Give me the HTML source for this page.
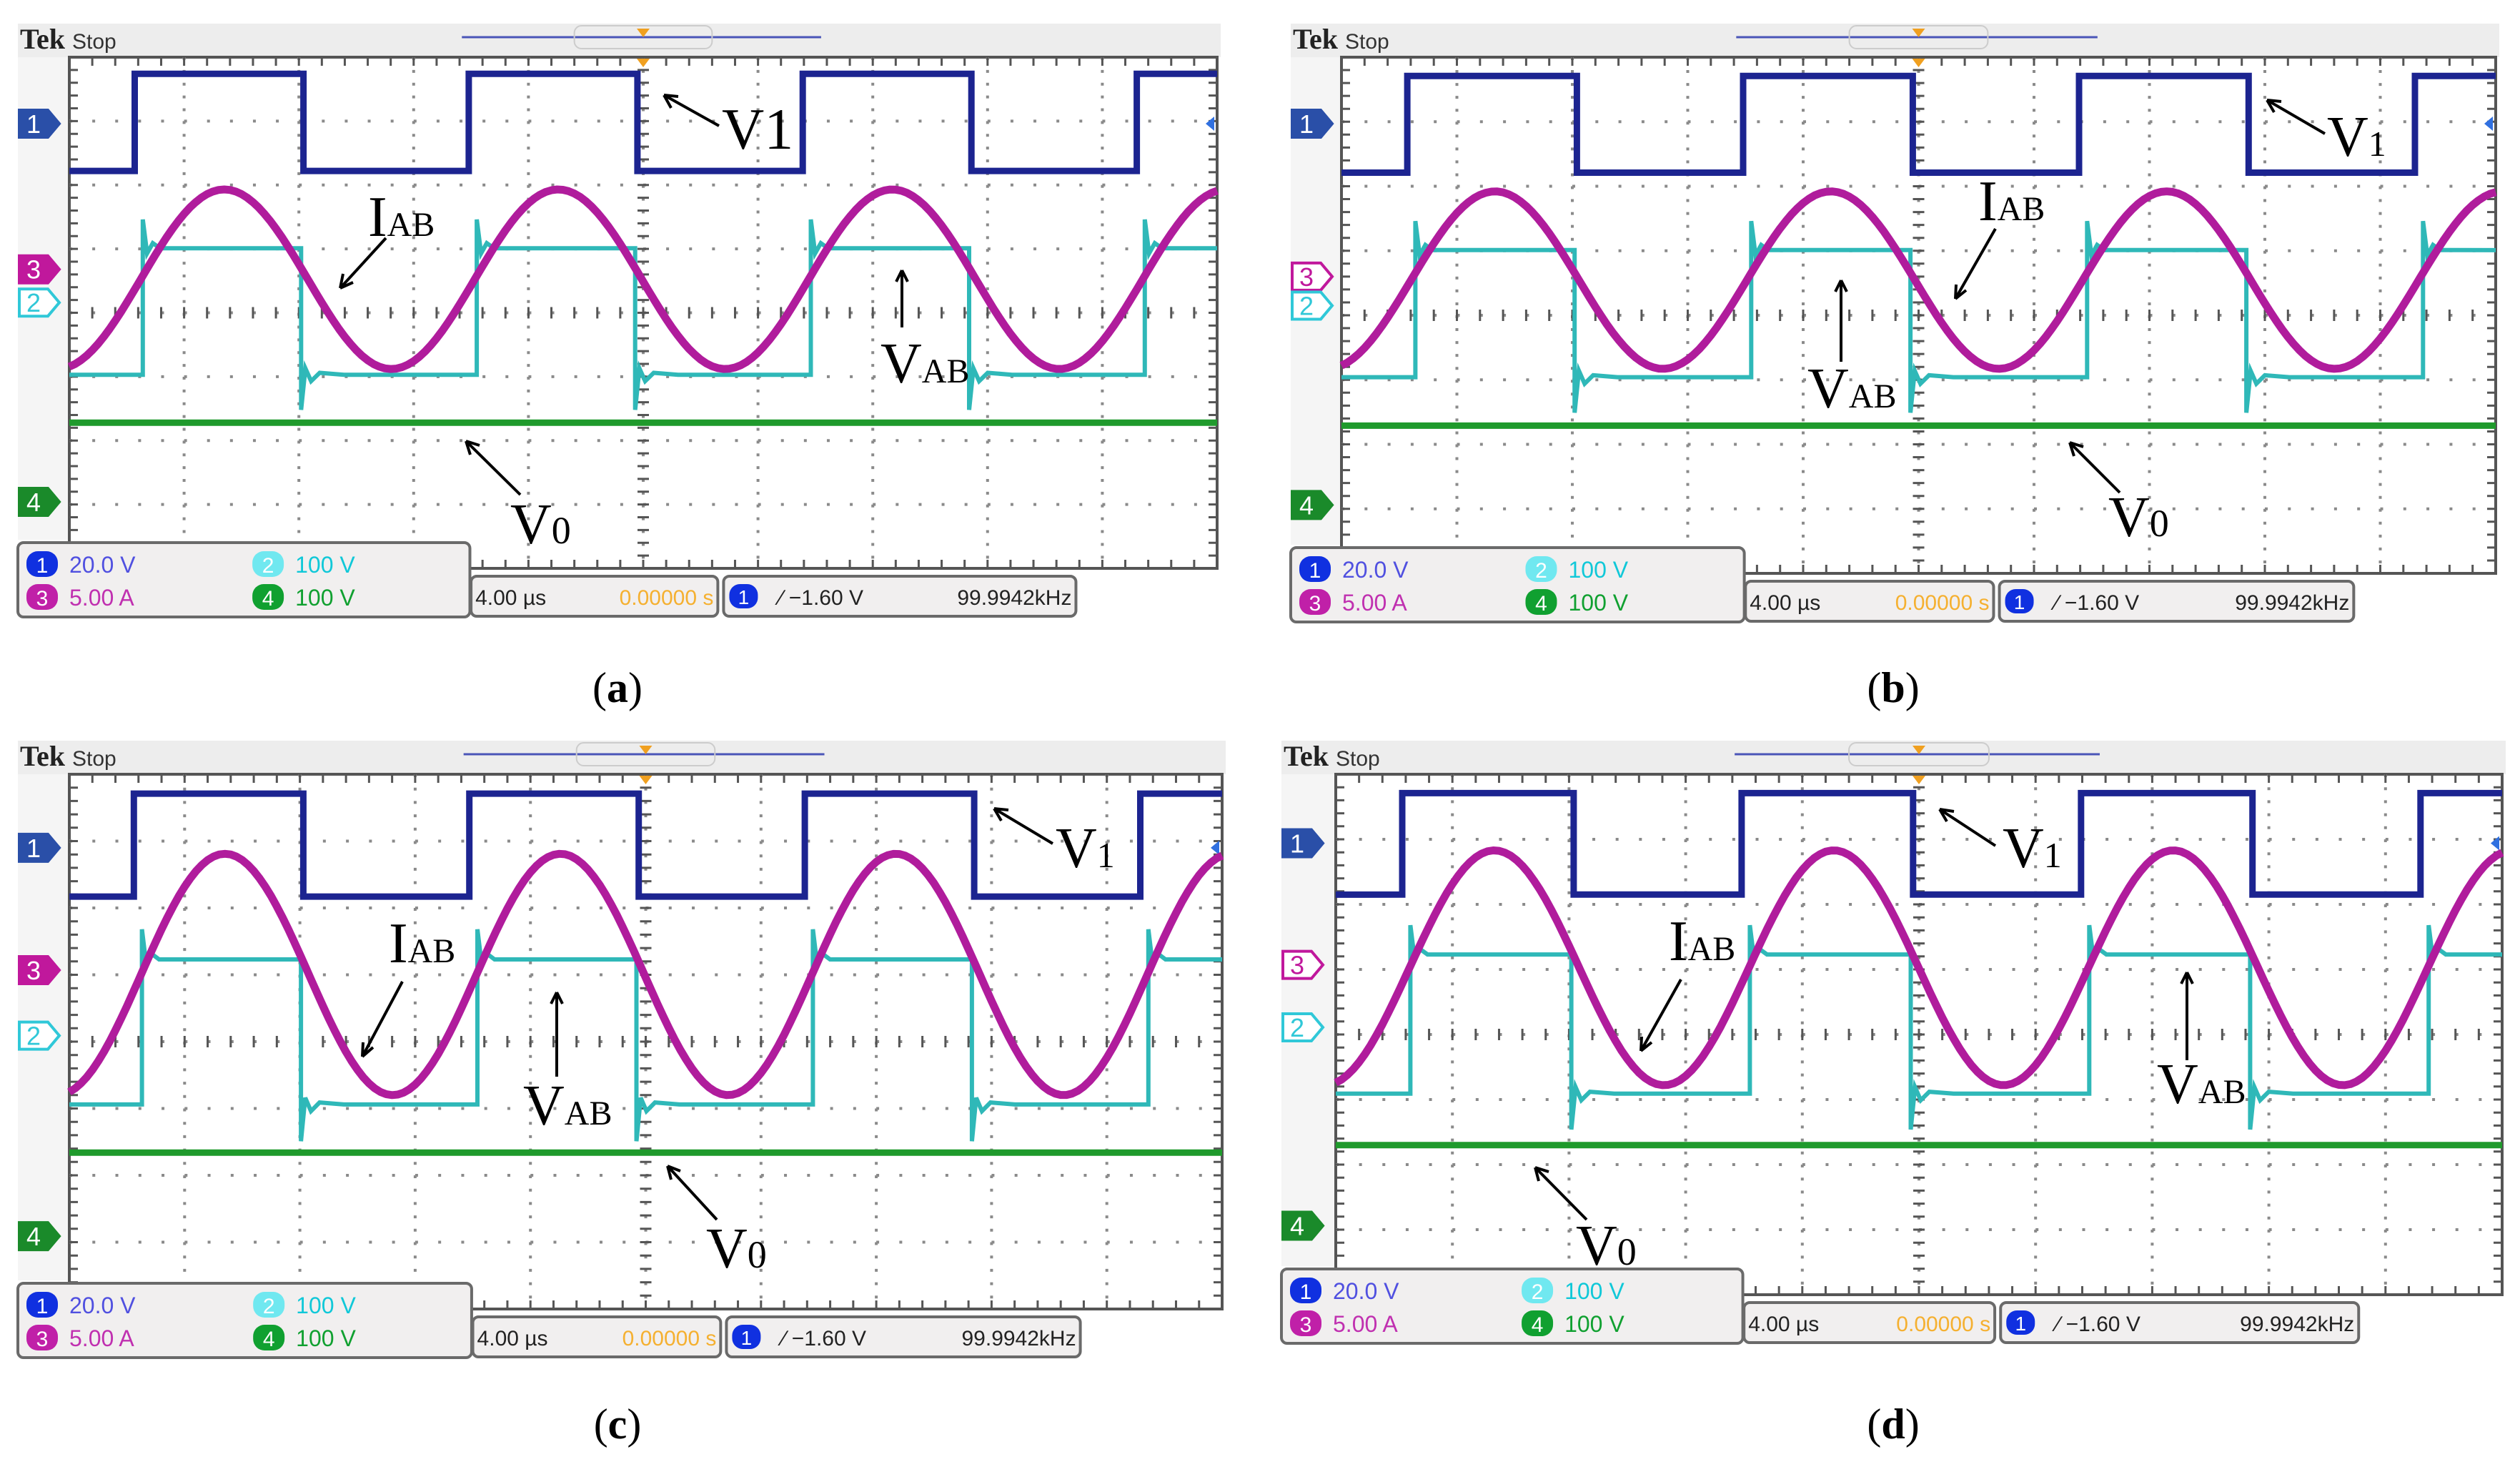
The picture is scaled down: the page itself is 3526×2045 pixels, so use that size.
<!DOCTYPE html>
<html><head><meta charset="utf-8"><title>Oscilloscope waveforms (a)-(d)</title>
<style>
html,body{margin:0;padding:0;background:#fff;}
svg{display:block;}
.ann{font-family:"Liberation Serif",serif;fill:#000;}
.ro{font-family:"Liberation Sans",sans-serif;}
</style></head>
<body>
<svg id="fig" xmlns="http://www.w3.org/2000/svg" width="3526" height="2045" viewBox="0 0 3526 2045">
<rect x="0" y="0" width="3526" height="2045" fill="#fff"/>
<g id="panels"></g>

<g id="annotations" stroke="#000" stroke-width="4" fill="none">
  <path d="M1006,176 L929,133 M929,133 l10,18 M929,133 l20,2"/>
  <path d="M540,333 L476,403 M476,403 l4,-20 M476,403 l18,-8"/>
  <path d="M1262,458 L1262,378 M1262,378 l-8,16 M1262,378 l8,16"/>
  <path d="M728,692 L652,617 M652,617 l6,19 M652,617 l19,6"/>
  <path d="M3253,187 L3172,140 M3172,140 l10,17 M3172,140 l20,2"/>
  <path d="M2792,320 L2736,418 M2736,418 l1,-20 M2736,418 l15,-12"/>
  <path d="M2576,506 L2576,392 M2576,392 l-8,16 M2576,392 l8,16"/>
  <path d="M2966,689 L2896,619 M2896,619 l6,19 M2896,619 l19,6"/>
  <path d="M1473,1180 L1391,1131 M1391,1131 l10,17 M1391,1131 l20,2"/>
  <path d="M563,1373 L507,1478 M507,1478 l1,-20 M507,1478 l15,-13"/>
  <path d="M779,1506 L779,1388 M779,1388 l-8,16 M779,1388 l8,16"/>
  <path d="M1003,1706 L934,1631 M934,1631 l5,19 M934,1631 l18,7"/>
  <path d="M2792,1183 L2714,1132 M2714,1132 l10,17 M2714,1132 l20,3"/>
  <path d="M2352,1370 L2296,1470 M2296,1470 l1,-20 M2296,1470 l15,-12"/>
  <path d="M3060,1483 L3060,1360 M3060,1360 l-8,16 M3060,1360 l8,16"/>
  <path d="M2220,1706 L2148,1633 M2148,1633 l5,19 M2148,1633 l19,6"/>
</g>
<g id="labels" class="ann">
  <text x="1010" y="208" font-size="82">V1</text>
  <text x="515" y="330" font-size="80">I<tspan font-size="48">AB</tspan></text>
  <text x="1232" y="535" font-size="80">V<tspan font-size="48">AB</tspan></text>
  <text x="714" y="760" font-size="80">V<tspan font-size="54">0</tspan></text>

  <text x="3256" y="218" font-size="80">V<tspan font-size="50">1</tspan></text>
  <text x="2768" y="308" font-size="80">I<tspan font-size="48">AB</tspan></text>
  <text x="2529" y="570" font-size="80">V<tspan font-size="48">AB</tspan></text>
  <text x="2950" y="750" font-size="80">V<tspan font-size="54">0</tspan></text>

  <text x="1477" y="1213" font-size="80">V<tspan font-size="50">1</tspan></text>
  <text x="544" y="1346" font-size="80">I<tspan font-size="48">AB</tspan></text>
  <text x="732" y="1573" font-size="80">V<tspan font-size="48">AB</tspan></text>
  <text x="988" y="1773" font-size="80">V<tspan font-size="54">0</tspan></text>

  <text x="2802" y="1213" font-size="80">V<tspan font-size="50">1</tspan></text>
  <text x="2335" y="1343" font-size="80">I<tspan font-size="48">AB</tspan></text>
  <text x="3018" y="1543" font-size="80">V<tspan font-size="48">AB</tspan></text>
  <text x="2205" y="1769" font-size="80">V<tspan font-size="54">0</tspan></text>
</g>
<g id="captions" class="ann" font-size="60" text-anchor="middle">
  <text x="864" y="982">(<tspan font-weight="bold">a</tspan>)</text>
  <text x="2649" y="982">(<tspan font-weight="bold">b</tspan>)</text>
  <text x="864" y="2012">(<tspan font-weight="bold">c</tspan>)</text>
  <text x="2649" y="2012">(<tspan font-weight="bold">d</tspan>)</text>
</g>
</svg>

<script>
// ---- data (in scope divisions; x: 0..10 from left, y: 0..8 from top) ----
const panelIds = ['a','b','c','d'];
const v1High = [0.26, 0.29, 0.29, 0.29];
const v1Low = [1.78, 1.79, 1.83, 1.85];
const iabPeak = [2.07, 2.08, 1.19, 1.17];
const iabTrough = [4.88, 4.83, 4.80, 4.78];
const vabHigh = [2.99, 2.99, 2.77, 2.77];
const vabLow = [4.97, 4.96, 4.94, 4.91];
const v0Level = [5.72, 5.71, 5.66, 5.70];
const riseDiv = [0.57, 0.57, 0.56, 0.57];
const periodDiv = [2.91, 2.91, 2.91, 2.91];
const dutyCycle = [0.505, 0.505, 0.505, 0.505];
const iabPeakPhase = [1.35, 1.33, 1.35, 1.36];
const ch1Marker = [1.04, 1.03, 1.10, 1.06];
const ch3Marker = [3.32, 3.40, 2.93, 2.93];
const ch2Marker = [3.84, 3.85, 3.91, 3.89];
const ch4Marker = [6.96, 6.94, 6.91, 6.94];
const ch3Hollow = [false, true, false, true];
const scaleLabels = ['20.0 V', '5.00 A', '100 V', '100 V'];
const timeLabels = ['4.00 \u00b5s', '0.00000 s'];
const triggerLabels = ['\u2215 \u22121.60 V', '99.9942kHz'];

// ---- layout (pixels) ----
const plotLeft = [97, 1877, 97, 1869];
const plotTop = [80, 80, 1083, 1083];
const plotW = [1606, 1615, 1613, 1632];
const plotH = [715, 722, 748, 728];
const hdrLeft = [25, 1806, 25, 1793];

const NS = 'http://www.w3.org/2000/svg';
function mk(tag, attrs, parent){
  const e = document.createElementNS(NS, tag);
  for (const k in attrs) e.setAttribute(k, attrs[k]);
  parent.appendChild(e);
  return e;
}
const root = document.getElementById('panels');

function drawPanel(i){
  const L = plotLeft[i], T = plotTop[i], W = plotW[i], H = plotH[i];
  const xs = d => L + d * W / 10;
  const ys = d => T + d * H / 8;
  const g = mk('g', {}, root);
  
  

  const hdr = mk('rect', {x: hdrLeft[i], y: T - 47, width: L + W + 5 - hdrLeft[i], height: 47, fill: '#ededed'}, g);
  
  
  const strip = mk('rect', {x: hdrLeft[i], y: T, width: L - hdrLeft[i], height: H - 40, fill: '#f5f5f5'}, g);
  
  
  const tek = mk('text', {x: hdrLeft[i] + 3, y: T - 12, 'font-family': '"Liberation Serif",serif', 'font-weight': 'bold', 'font-size': 40, fill: '#222'}, g);
  tek.textContent = 'Tek';
  
  
  const stp = mk('text', {x: hdrLeft[i] + 76, y: T - 12, 'font-family': '"Liberation Sans",sans-serif', 'font-size': 30, fill: '#333'}, g);
  stp.textContent = 'Stop';
  
  
  const trig = mk('line', {x1: xs(3.42), x2: xs(6.55), y1: T - 28, y2: T - 28, stroke: '#4a55b8', 'stroke-width': 3}, g);
  
  
  const brk = mk('rect', {x: xs(4.4), y: T - 44, width: W * 0.12, height: 32, rx: 10, fill: 'none', stroke: '#ccc', 'stroke-width': 2}, g);
  
  
  const tri1 = mk('path', {d: `M${xs(5)-9},${T-40} h18 l-9,12 z`, fill: '#f0a020'}, g);
  
  

  const plot = mk('rect', {x: L, y: T, width: W, height: H, fill: '#fff', stroke: '#555', 'stroke-width': 4}, g);
  
  
  const grid = mk('g', {stroke: '#8a8a8a', 'stroke-width': 4, 'stroke-dasharray': '4 ' + (W / 50 - 4).toFixed(2)}, g);
  
  
  for (let k = 1; k < 10; k++){
    mk('line', {x1: xs(k), x2: xs(k), y1: T, y2: T + H, 'stroke-dasharray': '4 ' + (H / 40 - 4).toFixed(2)}, grid);
  }
  for (let k = 1; k < 8; k++){
    mk('line', {x1: L, x2: L + W, y1: ys(k), y2: ys(k)}, grid);
  }
  let tk = '';
  for (let k = 0; k <= 50; k++){
    const x = xs(k / 5);
    tk += `M${x},${ys(4)-8}v16 M${x},${T}v12 M${x},${T+H}v-12 `;
  }
  for (let k = 0; k <= 40; k++){
    const y = ys(k / 5);
    tk += `M${xs(5)-8},${y}h16 M${L},${y}h12 M${L+W},${y}h-12 `;
  }
  const ticks = mk('path', {d: tk, stroke: '#555', 'stroke-width': 3, fill: 'none'}, g);
  
  
  const tri2 = mk('path', {d: `M${xs(5)-9},${T+2} h18 l-9,12 z`, fill: '#f0a020'}, g);
  
  

  function marker(yDiv, color, label, hollow, name){
    const y = ys(yDiv), x0 = hdrLeft[i] + 2;
    const mg = mk('g', {}, g);
    
    
    mk('path', {d: `M${x0},${y-19} h40 l16,19 l-16,19 h-40 z`, fill: hollow ? '#fff' : color, stroke: color, 'stroke-width': 4}, mg);
    const t = mk('text', {x: x0 + 20, y: y + 13, 'text-anchor': 'middle', 'font-family': '"Liberation Sans",sans-serif', 'font-size': 36, fill: hollow ? color : '#fff'}, mg);
    t.textContent = label;
  }
  marker(ch1Marker[i], '#2a4fa8', '1', false, 'ch1-marker');
  marker(ch3Marker[i], '#c0189c', '3', ch3Hollow[i], 'ch3-marker');
  marker(ch2Marker[i], '#30c8d8', '2', true, 'ch2-marker');
  marker(ch4Marker[i], '#1a8a2a', '4', false, 'ch4-marker');
  const ra = mk('path', {d: `M${L+W-4},${ys(ch1Marker[i])-10} l-12,10 l12,10 z`, fill: '#3070e0'}, g);
  
  

  const P = periodDiv[i], r0 = riseDiv[i], D = dutyCycle[i];
  const kStart = Math.floor((0 - r0) / P) - 1;
  let pts = [];
  for (let k = kStart; k < 6; k++){
    const rise = r0 + k * P, fall = rise + D * P;
    pts.push([rise, v1Low[i]], [rise, v1High[i]], [fall, v1High[i]], [fall, v1Low[i]]);
  }
  const ph0 = (((0 - r0) / P) % 1 + 1) % 1;
  let d = `M${xs(0)},${ys(ph0 < D ? v1High[i] : v1Low[i])}`;
  pts.filter(p => p[0] > 0 && p[0] < 10).forEach(p => { d += ` L${xs(p[0]).toFixed(1)},${ys(p[1]).toFixed(1)}`; });
  const lastPh = (((10 - r0) / P) % 1 + 1) % 1;
  d += ` L${xs(10)},${ys(lastPh < D ? v1High[i] : v1Low[i])}`;
  const v1 = mk('path', {d: d, fill: 'none', stroke: '#1c2490', 'stroke-width': 9, 'stroke-linejoin': 'miter'}, g);
  
  

  const vd = 0.07, fd = -0.02;
  const ph1 = (((0 - r0 - vd) / P) % 1 + 1) % 1;
  let dv = `M${xs(0)},${ys(ph1 < D ? vabHigh[i] : vabLow[i])}`;
  for (let k = kStart; k < 6; k++){
    const rise = r0 + vd + k * P, fall = r0 + k * P + D * P + fd;
    if (rise > 0 && rise < 10){
      dv += ` L${xs(rise).toFixed(1)},${ys(vabLow[i]).toFixed(1)} L${xs(rise).toFixed(1)},${ys(vabHigh[i]-0.45).toFixed(1)} L${(xs(rise)+6).toFixed(1)},${ys(vabHigh[i]+0.08).toFixed(1)} L${(xs(rise)+14).toFixed(1)},${ys(vabHigh[i]-0.08).toFixed(1)} L${(xs(rise)+24).toFixed(1)},${ys(vabHigh[i]).toFixed(1)}`;
    }
    if (fall > 0 && fall < 10){
      dv += ` L${xs(fall).toFixed(1)},${ys(vabHigh[i]).toFixed(1)} L${xs(fall).toFixed(1)},${ys(vabLow[i]+0.55).toFixed(1)} L${(xs(fall)+6).toFixed(1)},${ys(vabLow[i]-0.1).toFixed(1)} L${(xs(fall)+14).toFixed(1)},${ys(vabLow[i]+0.1).toFixed(1)} L${(xs(fall)+26).toFixed(1)},${ys(vabLow[i]-0.03).toFixed(1)} L${(xs(fall)+60).toFixed(1)},${ys(vabLow[i]).toFixed(1)}`;
    }
  }
  const ph2 = (((10 - r0 - vd) / P) % 1 + 1) % 1;
  dv += ` L${xs(10)},${ys(ph2 < D ? vabHigh[i] : vabLow[i])}`;
  const vab = mk('path', {d: dv, fill: 'none', stroke: '#2fb8b8', 'stroke-width': 6}, g);
  
  

  const c = (iabPeak[i] + iabTrough[i]) / 2, a = (iabTrough[i] - iabPeak[i]) / 2;
  let ds = '';
  for (let s = 0; s <= 200; s++){
    const x = s * 10 / 200;
    const y = c - a * Math.cos(2 * Math.PI * (x - iabPeakPhase[i]) / P);
    ds += (s ? ' L' : 'M') + xs(x).toFixed(1) + ',' + ys(y).toFixed(1);
  }
  const iab = mk('path', {d: ds, fill: 'none', stroke: '#b01c9c', 'stroke-width': 11, 'stroke-linejoin': 'round'}, g);
  
  

  const v0 = mk('line', {x1: xs(0), x2: xs(10), y1: ys(v0Level[i]), y2: ys(v0Level[i]), stroke: '#1f9a2c', 'stroke-width': 9}, g);
  
  

  const bx = hdrLeft[i], bTop = T + H - 36, bBot = T + H + 68;
  const rb = mk('g', {class: 'ro'}, g);
  
  
  mk('rect', {x: bx, y: bTop, width: xs(3.49) - bx, height: bBot - bTop, rx: 8, fill: '#f1efef', stroke: '#6a6a6a', 'stroke-width': 4}, rb);
  const rows = [[0, '#1030e0', '1', '#5050e0', 0, 0], [0, '#c020a8', '3', '#c030b0', 1, 1], [1, '#70e8f0', '2', '#10c8d8', 0, 2], [1, '#10a030', '4', '#10a030', 1, 3]];
  rows.forEach(rw => {
    const [col, bc, lbl, tc, row, li] = rw;
    const x = bx + 12 + col * (xs(1.52) - bx);
    const y = bTop + 30 + row * 46;
    mk('rect', {x: x, y: y - 18, width: 44, height: 36, rx: 16, fill: bc}, rb);
    const t1 = mk('text', {x: x + 22, y: y + 12, 'text-anchor': 'middle', 'font-size': 30, fill: '#fff'}, rb);
    t1.textContent = lbl;
    const t2 = mk('text', {x: x + 60, y: y + 12, 'font-size': 32, fill: tc}, rb);
    t2.textContent = scaleLabels[li];
  });
  const tb = mk('g', {class: 'ro'}, g);
  
  
  mk('rect', {x: xs(3.5), y: T + H + 11, width: W * 0.215, height: 56, rx: 8, fill: '#f1efef', stroke: '#6a6a6a', 'stroke-width': 4}, tb);
  const tt1 = mk('text', {x: xs(3.5) + 6, y: T + H + 51, 'font-size': 30, fill: '#222'}, tb);
  tt1.textContent = timeLabels[0];
  const tt2 = mk('text', {x: xs(3.5) + W * 0.215 - 6, y: T + H + 51, 'text-anchor': 'end', 'font-size': 30, fill: '#f5b030'}, tb);
  tt2.textContent = timeLabels[1];
  const trb = mk('g', {class: 'ro'}, g);
  
  
  const t3x = xs(5.7), t3w = W * 0.307;
  mk('rect', {x: t3x, y: T + H + 11, width: t3w, height: 56, rx: 8, fill: '#f1efef', stroke: '#6a6a6a', 'stroke-width': 4}, trb);
  mk('rect', {x: t3x + 8, y: T + H + 22, width: 40, height: 34, rx: 15, fill: '#1030e0'}, trb);
  const t4 = mk('text', {x: t3x + 28, y: T + H + 50, 'text-anchor': 'middle', 'font-size': 28, fill: '#fff'}, trb);
  t4.textContent = '1';
  const t5 = mk('text', {x: t3x + 78, y: T + H + 51, 'font-size': 30, fill: '#222'}, trb);
  t5.textContent = triggerLabels[0];
  const t6 = mk('text', {x: t3x + t3w - 6, y: T + H + 51, 'text-anchor': 'end', 'font-size': 30, fill: '#222'}, trb);
  t6.textContent = triggerLabels[1];
}
for (let i = 0; i < panelIds.length; i++) drawPanel(i);
const svg = document.getElementById('fig');
svg.appendChild(document.getElementById('annotations'));
svg.appendChild(document.getElementById('labels'));
svg.appendChild(document.getElementById('captions'));
</script>
</body></html>
